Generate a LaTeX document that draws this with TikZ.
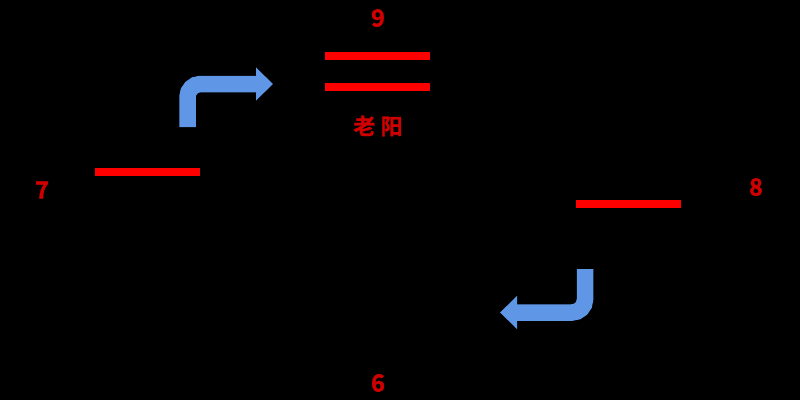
\documentclass[tikz,border=0pt]{standalone}
\usepackage{fontspec}
\setmainfont{Noto Sans CJK SC}[BoldFont={Noto Sans CJK SC Bold}, BoldFeatures={FakeBold=1.2}]
\usetikzlibrary{arrows.meta,positioning}
\definecolor{numred}{HTML}{D00000}
\definecolor{flowblue}{HTML}{5F97E6}

\begin{document}
\begin{tikzpicture}[x=0.02cm, y=-0.02cm, font=\bfseries,
    bar/.style={fill=red, minimum width=2.1cm, minimum height=0.16cm, inner sep=0pt},
    num/.style={text=numred, font=\fontsize{13.5}{15}\bfseries},
    flow/.style={draw=flowblue, line width=0.33cm, rounded corners=0.26cm,
      -{Triangle[width=0.64cm, length=0.34cm]}}]
        \fill[black] (0,0) rectangle (800,400);
        % trigrams
        \node[bar] (nineA) at (377.5,56) {};
        \node[bar] (nineB) at (377.5,87) {};
        \node[bar] (seven) at (147.5,172) {};
        \node[bar] (eight) at (628.5,204) {};
        % labels
        \node[num] (lab9) at (378,18) {9};
        \node[num, font=\fontsize{12.5}{14}\bfseries] (laoyang) at (378,126) {老\hspace{3pt}阳};
        \node[num] (lab7) at (42,190) {7};
        \node[num] (lab8) at (756,187) {8};
        \node[num] (lab6) at (378,383) {6};
        % arrows
        \coordinate (upS) at (187.5,127);
        \coordinate (upT) at (273,84);
        \coordinate (dnS) at (585,269);
        \coordinate (dnT) at (500,312.5);
        \draw[flow] (upS) |- (upT);
        \draw[flow] (dnS) |- (dnT);
      \end{tikzpicture}
\end{document}
